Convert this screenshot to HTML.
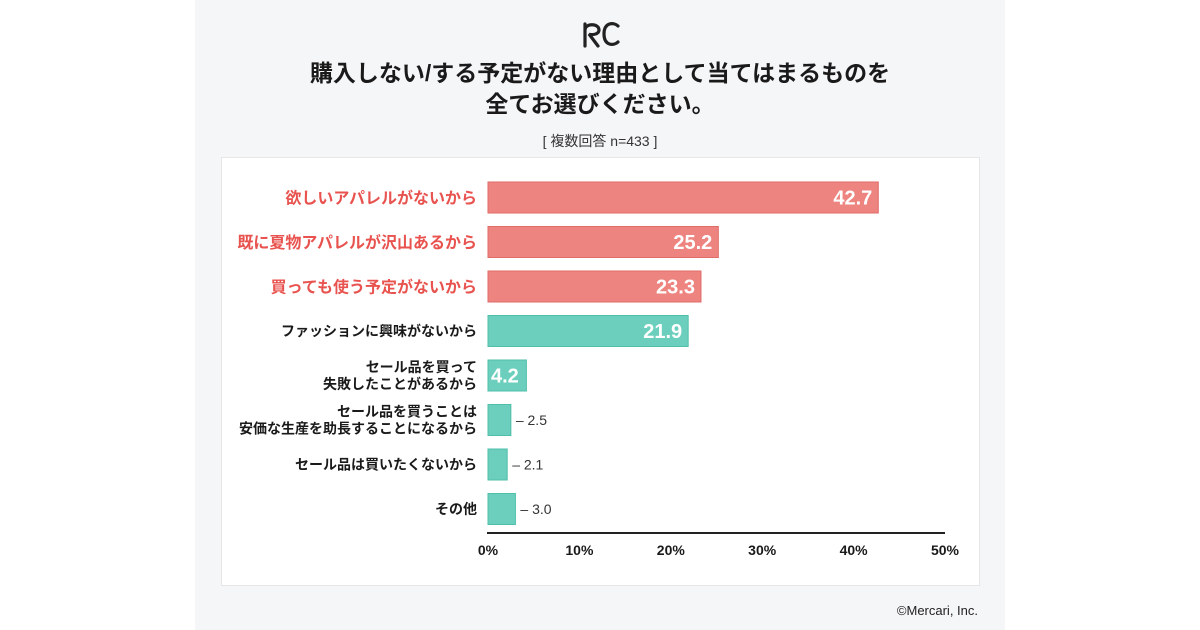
<!DOCTYPE html>
<html><head><meta charset="utf-8"><style>
body{margin:0;width:1200px;height:630px;background:#fff;font-family:"Liberation Sans","Noto Sans CJK JP",sans-serif;overflow:hidden}
#panel{position:absolute;left:195px;top:0;width:810px;height:630px;background:#f5f6f8}
#card{position:absolute;left:221px;top:157px;width:757px;height:427px;background:#fff;border:1px solid #e6e6e6}
.t{position:absolute;left:0;width:1200px;text-align:center;color:#1a1a1a}
</style></head><body>
<div id="panel"></div>
<div id="card"></div>
<svg style="position:absolute;left:582px;top:20px" width="40" height="28" viewBox="0 0 40 28"><path d="M3 26V4 M3 10 C3 3 17 3 17 10 C17 15 9 15 7 14 L16 26 M36 6 C32 2 22 2 22 14 C22 26 32 26 36 22" fill="none" stroke="#222" stroke-width="3.2" stroke-linecap="round"/></svg>
<div class="t" style="top:58px;font-size:23px;font-weight:bold;line-height:31px">購入しない/する予定がない理由として当てはまるものを<br>全てお選びください。</div>
<div class="t" style="top:131px;font-size:14px;color:#333">[ 複数回答 n=433 ]</div>
<div style="position:absolute;right:222px;top:603px;font-size:13px;color:#222">©Mercari, Inc.</div>
<svg id="chart" width="1200" height="630" style="position:absolute;left:0;top:0"></svg>
<script>
const categories=[["欲しいアパレルがないから"],["既に夏物アパレルが沢山あるから"],["買っても使う予定がないから"],["ファッションに興味がないから"],["セール品を買って","失敗したことがあるから"],["セール品を買うことは","安価な生産を助長することになるから"],["セール品は買いたくないから"],["その他"]];
const values=[42.7,25.2,23.3,21.9,4.2,2.5,2.1,3.0];
const highlight=[true,true,true,false,false,false,false,false];
const ticks=[0,10,20,30,40,50];
const NS="http://www.w3.org/2000/svg";
const svg=document.getElementById('chart');
const x0=488,x1=945,xMax=50;
const xs=v=>x0+(x1-x0)*v/xMax;
const yTop=182,step=44.5,bh=31;
const ys=i=>yTop+i*step;
function mk(t,a){const e=document.createElementNS(NS,t);for(const k in a)e.setAttribute(k,a[k]);svg.appendChild(e);return e;}
values.forEach((v,i)=>{
 const y=ys(i);
 const col=highlight[i]?'#ee8480':'#6ccfbd';
 const stroke=highlight[i]?'#e06b67':'#4fbfa9';
 const r=mk('rect',{x:x0,y:y,width:xs(v)-x0,height:bh,fill:col,stroke:stroke,'stroke-width':1});
 
 
 const lines=categories[i];
 lines.forEach((l,j)=>{
  const t=mk('text',{x:477,y:y+bh/2+(j-(lines.length-1)/2)*17+ (highlight[i]?6:5),'text-anchor':'end','font-size':highlight[i]?16:14,'font-weight':'bold',fill:highlight[i]?'#e8534f':'#1a1a1a'});
  t.textContent=l;
  
  
 });
 let t;
 if(v>=4){
  t=mk('text',{x:xs(v)-6,y:y+bh/2+7,'text-anchor':'end','font-size':20,'font-weight':'bold',fill:'#fff'});
  if(v<10){t.setAttribute('x',x0+3);t.setAttribute('text-anchor','start');}
 }else{
  t=mk('text',{x:xs(v)+5,y:y+bh/2+5,'font-size':14,fill:'#333'});
  t.textContent='– ';
 }
 t.textContent=(t.textContent||'')+v.toFixed(1);
 
 
});
const ax=mk('line',{x1:x0-1,x2:x1,y1:533,y2:533,stroke:'#222','stroke-width':2});


ticks.forEach(tk=>{
 const t=mk('text',{x:xs(tk),y:555,'text-anchor':'middle','font-size':14,'font-weight':'bold',fill:'#1a1a1a'});
 t.textContent=tk+'%';
 
 
});
</script>
</body></html>
